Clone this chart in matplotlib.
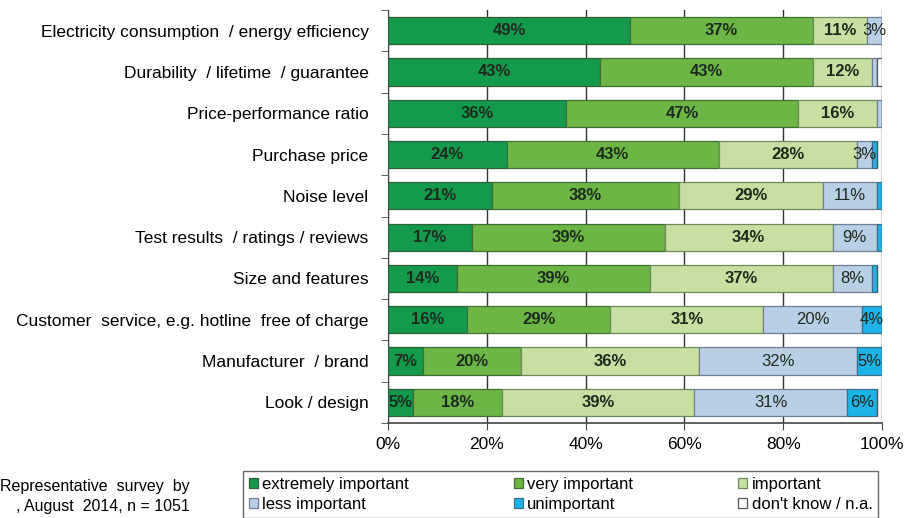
import matplotlib.pyplot as plt
import numpy as np

categories = [
    "Electricity consumption  / energy efficiency",
    "Durability  / lifetime  / guarantee",
    "Price-performance ratio",
    "Purchase price",
    "Noise level",
    "Test results  / ratings / reviews",
    "Size and features",
    "Customer  service, e.g. hotline  free of charge",
    "Manufacturer  / brand",
    "Look / design",
]
extremely = [49, 43, 36, 24, 21, 17, 14, 16, 7, 5]
very = [37, 43, 47, 43, 38, 39, 39, 29, 20, 18]
important = [11, 12, 16, 28, 29, 34, 37, 31, 36, 39]
less = [3, 1, 1, 3, 11, 9, 8, 20, 32, 31]
unimportant = [0, 0, 0, 1, 1, 1, 1, 4, 5, 6]
dont_know = [0, 1, 0, 0, 0, 0, 0, 0, 0, 0]

series = [extremely, very, important, less, unimportant, dont_know]
names = ["extremely important", "very important", "important",
         "less important", "unimportant", "don't know / n.a."]
colors = ["#139a4c", "#6cb645", "#c6e0a2", "#b9cfe6", "#1eb3e8", "#ffffff"]
edges = ["#2f5f3a", "#3f6f35", "#6f8a5a", "#6f7f95", "#3a6f88", "#555555"]
txt_weight = ["bold", "bold", "bold", "normal", "normal", "normal"]

plt.rcParams['font.family'] = ['Liberation Sans', 'DejaVu Sans']

fig = plt.figure(figsize=(9.08, 5.18), dpi=100)
ax = fig.add_axes([388 / 908, 1 - 423 / 518, 494 / 908, 413 / 518])

y = np.arange(len(categories))
left = np.zeros(len(categories))
for vals, name, c, ec, w in zip(series, names, colors, edges, txt_weight):
    vals = np.array(vals, dtype=float)
    ax.barh(y, vals, left=left, height=0.66, color=c, edgecolor=ec,
            linewidth=0.9, label=name, zorder=3)
    for yi, (l, v) in enumerate(zip(left, vals)):
        if v >= 3:
            ax.text(l + v / 2, yi, f"{int(v)}%", ha='center', va='center',
                    fontsize=12, fontweight=w, color='#1e2a1e', zorder=4)
    left += vals

ax.set_xlim(0, 100)
ax.set_ylim(len(categories) - 0.5, -0.5)
ax.set_yticks(y)
ax.set_yticklabels(categories, fontsize=12.5)
ax.tick_params(axis='y', which='major', length=0, pad=14)
ax.set_yticks(np.arange(-0.5, len(categories), 1), minor=True)
ax.tick_params(axis='y', which='minor', length=5, color='#444444')
ax.set_xticks(np.arange(0, 101, 20))
ax.set_xticklabels([f"{v}%" for v in range(0, 101, 20)], fontsize=12.5)
ax.tick_params(axis='x', length=5, color='#444444', pad=5)
ax.xaxis.grid(True, color='#333333', linewidth=1.0, zorder=0)
for s in ['top', 'right']:
    ax.spines[s].set_visible(False)
ax.spines['left'].set_color('#444444')
ax.spines['bottom'].set_color('#444444')
ax.spines['bottom'].set_linewidth(1.2)

# source note
fig.text(190 / 908, 1 - 486 / 518, "Representative  survey  by", ha='right',
         va='center', fontsize=11.5)
fig.text(190 / 908, 1 - 507 / 518, ", August  2014, n = 1051", ha='right',
         va='center', fontsize=11.5)

handles, labels = ax.get_legend_handles_labels()
order = [0, 3, 1, 4, 2, 5]
leg = fig.legend([handles[i] for i in order], [labels[i] for i in order],
                 ncol=3, loc='lower left', bbox_to_anchor=(243 / 908, 0.0),
                 fontsize=12, frameon=True, fancybox=False, edgecolor='#444444',
                 handlelength=0.55, handleheight=0.55, handletextpad=0.25,
                 columnspacing=6.3, labelspacing=0.3, borderpad=0.35,
                 borderaxespad=0)
leg.get_frame().set_linewidth(1.0)

fig.savefig("out.png", dpi=100)
